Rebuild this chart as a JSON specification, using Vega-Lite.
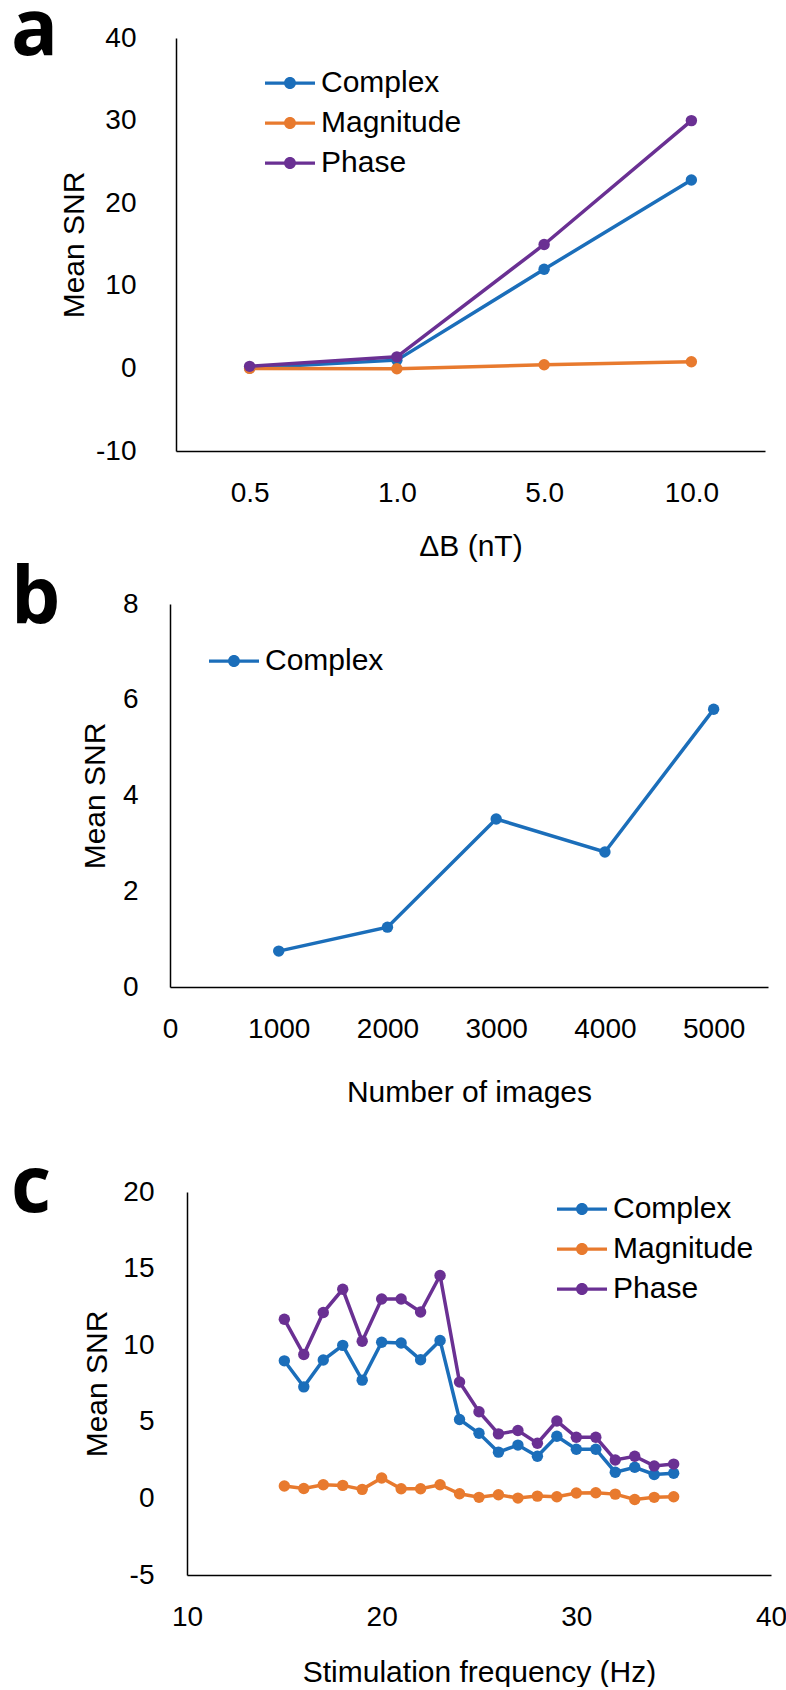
{
  "$schema": "https://vega.github.io/schema/vega-lite/v6.json",
  "background": "white",
  "padding": {"top": -7, "left": 11, "right": 0, "bottom": 0},
  "config": {
    "view": {"stroke": null},
    "font": "Liberation Sans",
    "axis": {"grid": false, "ticks": false, "domainColor": "#000000", "domainWidth": 1.5, "labelFont": "Liberation Sans", "labelFontSize": 28, "labelColor": "#000000", "titleFont": "Liberation Sans", "titleFontSize": 30, "titleFontWeight": "normal", "titleColor": "#000000", "labelAngle": 0, "labelFlush": false, "labelOverlap": false, "labelBound": false},
    "legend": {"orient": "none", "padding": 0, "symbolStrokeWidth": 0, "labelFont": "Liberation Sans", "labelFontSize": 30, "labelColor": "#000000", "labelOffset": 6, "rowPadding": 0, "symbolOpacity": 1},
    "title": {"font": "Open Sans", "fontSize": 78, "fontWeight": "bold", "color": "#000000", "anchor": "start", "frame": "group", "baseline": "alphabetic", "dx": -167}
  },
  "resolve": {"scale": {"color": "independent", "stroke": "independent"}, "legend": {"color": "independent", "stroke": "independent"}},
  "spacing": 43,
  "vconcat": [
    {
      "spacing": 0,
      "resolve": {"scale": {"color": "independent", "stroke": "independent"}, "legend": {"color": "independent", "stroke": "independent"}},
      "vconcat": [
        {
          "width": 587,
          "height": 413,
          "title": {"text": "a", "offset": -47},
          "data": {"values": [
            {"series": "Complex", "dB": "0.5", "snr": 0.05},
            {"series": "Complex", "dB": "1.0", "snr": 1.0},
            {"series": "Complex", "dB": "5.0", "snr": 12.0},
            {"series": "Complex", "dB": "10.0", "snr": 22.8},
            {"series": "Magnitude", "dB": "0.5", "snr": 0.0},
            {"series": "Magnitude", "dB": "1.0", "snr": -0.05},
            {"series": "Magnitude", "dB": "5.0", "snr": 0.45},
            {"series": "Magnitude", "dB": "10.0", "snr": 0.8},
            {"series": "Phase", "dB": "0.5", "snr": 0.25},
            {"series": "Phase", "dB": "1.0", "snr": 1.4},
            {"series": "Phase", "dB": "5.0", "snr": 15.0},
            {"series": "Phase", "dB": "10.0", "snr": 30.0}
          ]},
          "encoding": {
            "x": {"field": "dB", "type": "ordinal", "sort": ["0.5", "1.0", "5.0", "10.0"], "scale": {"type": "point", "padding": 0.5, "range": [-2, 587]}, "axis": {"title": "ΔB (nT)", "labelPadding": 28, "titlePadding": 24}},
            "y": {"field": "snr", "type": "quantitative", "scale": {"domain": [-10, 40], "nice": false, "zero": false}, "axis": {"title": "Mean SNR", "values": [-10, 0, 10, 20, 30, 40], "labelExpr": "'' + datum.value", "labelPadding": 40, "titlePadding": 6, "offset": 2}}
          },
          "layer": [
            {"mark": {"type": "line", "strokeWidth": 3.5}, "encoding": {"stroke": {"field": "series", "type": "nominal", "scale": {"range": ["#1B6EBA", "#E87A2E", "#6A3093"]}, "legend": null}}},
            {"mark": {"type": "point", "filled": true, "size": 130, "opacity": 1}, "encoding": {"color": {"field": "series", "type": "nominal", "scale": {"domain": ["Complex", "Magnitude", "Phase"], "range": ["#1B6EBA", "#E87A2E", "#6A3093"]}, "legend": {"title": null, "legendX": 87, "legendY": 20, "symbolType": "M-1,-0.065L1,-0.065L1,0.065L-1,0.065Z M0.24,0A0.24,0.24 0 1,1 -0.24,0A0.24,0.24 0 1,1 0.24,0Z", "symbolSize": 2500}}}}
          ]
        },
        {
          "width": 590,
          "height": 383,
          "title": {"text": "b", "offset": -49},
          "data": {"values": [
            {"series": "Complex", "n": 1000, "snr": 0.75},
            {"series": "Complex", "n": 2000, "snr": 1.25},
            {"series": "Complex", "n": 3000, "snr": 3.51},
            {"series": "Complex", "n": 4000, "snr": 2.82},
            {"series": "Complex", "n": 5000, "snr": 5.8}
          ]},
          "encoding": {
            "x": {"field": "n", "type": "quantitative", "scale": {"domain": [0, 5500], "nice": false, "range": [-8, 590]}, "axis": {"title": "Number of images", "values": [0, 1000, 2000, 3000, 4000, 5000], "labelExpr": "'' + datum.value", "labelPadding": 28, "titlePadding": 34}},
            "y": {"field": "snr", "type": "quantitative", "scale": {"domain": [0, 8], "nice": false}, "axis": {"title": "Mean SNR", "values": [0, 2, 4, 6, 8], "labelPadding": 32, "titlePadding": 12, "offset": 8}}
          },
          "layer": [
            {"mark": {"type": "line", "strokeWidth": 3.5}, "encoding": {"stroke": {"field": "series", "type": "nominal", "scale": {"range": ["#1B6EBA"]}, "legend": null}}},
            {"mark": {"type": "point", "filled": true, "size": 130, "opacity": 1}, "encoding": {"color": {"field": "series", "type": "nominal", "scale": {"domain": ["Complex"], "range": ["#1B6EBA"]}, "legend": {"title": null, "legendX": 31, "legendY": 32, "symbolType": "M-1,-0.065L1,-0.065L1,0.065L-1,0.065Z M0.24,0A0.24,0.24 0 1,1 -0.24,0A0.24,0.24 0 1,1 0.24,0Z", "symbolSize": 2500}}}}
          ]
        }
      ]
    },
    {
      "width": 593,
      "height": 383,
      "title": {"text": "c", "offset": -50},
      "data": {"values": [
        {"series": "Complex", "f": 15, "snr": 8.98},
        {"series": "Complex", "f": 16, "snr": 7.28},
        {"series": "Complex", "f": 17, "snr": 9.03},
        {"series": "Complex", "f": 18, "snr": 9.99},
        {"series": "Complex", "f": 19, "snr": 7.72},
        {"series": "Complex", "f": 20, "snr": 10.19},
        {"series": "Complex", "f": 21, "snr": 10.14},
        {"series": "Complex", "f": 22, "snr": 9.05},
        {"series": "Complex", "f": 23, "snr": 10.31},
        {"series": "Complex", "f": 24, "snr": 5.15},
        {"series": "Complex", "f": 25, "snr": 4.25},
        {"series": "Complex", "f": 26, "snr": 3.02},
        {"series": "Complex", "f": 27, "snr": 3.48},
        {"series": "Complex", "f": 28, "snr": 2.75},
        {"series": "Complex", "f": 29, "snr": 4.06},
        {"series": "Complex", "f": 30, "snr": 3.21},
        {"series": "Complex", "f": 31, "snr": 3.21},
        {"series": "Complex", "f": 32, "snr": 1.71},
        {"series": "Complex", "f": 33, "snr": 2.03},
        {"series": "Complex", "f": 34, "snr": 1.56},
        {"series": "Complex", "f": 35, "snr": 1.64},
        {"series": "Magnitude", "f": 15, "snr": 0.81},
        {"series": "Magnitude", "f": 16, "snr": 0.65},
        {"series": "Magnitude", "f": 17, "snr": 0.89},
        {"series": "Magnitude", "f": 18, "snr": 0.85},
        {"series": "Magnitude", "f": 19, "snr": 0.59},
        {"series": "Magnitude", "f": 20, "snr": 1.33},
        {"series": "Magnitude", "f": 21, "snr": 0.63},
        {"series": "Magnitude", "f": 22, "snr": 0.63},
        {"series": "Magnitude", "f": 23, "snr": 0.89},
        {"series": "Magnitude", "f": 24, "snr": 0.3},
        {"series": "Magnitude", "f": 25, "snr": 0.07},
        {"series": "Magnitude", "f": 26, "snr": 0.24},
        {"series": "Magnitude", "f": 27, "snr": 0.02},
        {"series": "Magnitude", "f": 28, "snr": 0.15},
        {"series": "Magnitude", "f": 29, "snr": 0.11},
        {"series": "Magnitude", "f": 30, "snr": 0.35},
        {"series": "Magnitude", "f": 31, "snr": 0.37},
        {"series": "Magnitude", "f": 32, "snr": 0.28},
        {"series": "Magnitude", "f": 33, "snr": -0.07},
        {"series": "Magnitude", "f": 34, "snr": 0.07},
        {"series": "Magnitude", "f": 35, "snr": 0.11},
        {"series": "Phase", "f": 15, "snr": 11.69},
        {"series": "Phase", "f": 16, "snr": 9.39},
        {"series": "Phase", "f": 17, "snr": 12.13},
        {"series": "Phase", "f": 18, "snr": 13.65},
        {"series": "Phase", "f": 19, "snr": 10.26},
        {"series": "Phase", "f": 20, "snr": 13.02},
        {"series": "Phase", "f": 21, "snr": 13.02},
        {"series": "Phase", "f": 22, "snr": 12.17},
        {"series": "Phase", "f": 23, "snr": 14.55},
        {"series": "Phase", "f": 24, "snr": 7.6},
        {"series": "Phase", "f": 25, "snr": 5.66},
        {"series": "Phase", "f": 26, "snr": 4.21},
        {"series": "Phase", "f": 27, "snr": 4.43},
        {"series": "Phase", "f": 28, "snr": 3.6},
        {"series": "Phase", "f": 29, "snr": 5.05},
        {"series": "Phase", "f": 30, "snr": 3.99},
        {"series": "Phase", "f": 31, "snr": 3.99},
        {"series": "Phase", "f": 32, "snr": 2.51},
        {"series": "Phase", "f": 33, "snr": 2.75},
        {"series": "Phase", "f": 34, "snr": 2.12},
        {"series": "Phase", "f": 35, "snr": 2.24}
      ]},
      "encoding": {
        "x": {"field": "f", "type": "quantitative", "scale": {"domain": [10, 40], "nice": false, "range": [9, 593]}, "axis": {"title": "Stimulation frequency (Hz)", "values": [10, 20, 30, 40], "labelPadding": 28, "titlePadding": 26}},
        "y": {"field": "snr", "type": "quantitative", "scale": {"domain": [-5, 20], "nice": false, "zero": false}, "axis": {"title": "Mean SNR", "values": [-5, 0, 5, 10, 15, 20], "labelExpr": "'' + datum.value", "labelPadding": 33, "titlePadding": 10, "offset": -9}}
      },
      "layer": [
        {"mark": {"type": "line", "strokeWidth": 3.5}, "encoding": {"stroke": {"field": "series", "type": "nominal", "scale": {"range": ["#1B6EBA", "#E87A2E", "#6A3093"]}, "legend": null}}},
        {"mark": {"type": "point", "filled": true, "size": 130, "opacity": 1}, "encoding": {"color": {"field": "series", "type": "nominal", "scale": {"domain": ["Complex", "Magnitude", "Phase"], "range": ["#1B6EBA", "#E87A2E", "#6A3093"]}, "legend": {"title": null, "legendX": 379, "legendY": -8, "symbolType": "M-1,-0.065L1,-0.065L1,0.065L-1,0.065Z M0.24,0A0.24,0.24 0 1,1 -0.24,0A0.24,0.24 0 1,1 0.24,0Z", "symbolSize": 2500}}}}
      ]
    }
  ]
}
